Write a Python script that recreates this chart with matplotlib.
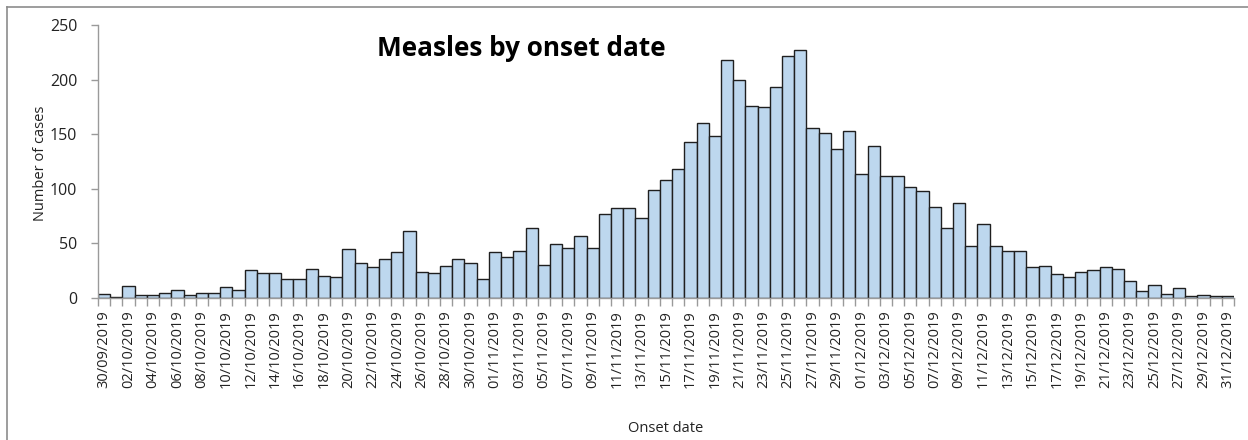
import matplotlib
matplotlib.use("Agg")
import matplotlib.pyplot as plt
import pandas as pd
from matplotlib.lines import Line2D

# ---- data ----
dates = pd.date_range("2019-09-30", "2019-12-31", freq="D")
date_labels = [d.strftime("%d/%m/%Y") for d in dates]
cases = [4, 1, 11, 3, 3, 5, 7, 3, 5, 5, 10, 7,
         26, 23, 23, 17, 17, 27, 20, 19, 45, 32, 28, 36,
         42, 61, 24, 23, 29, 36, 32, 17, 42, 38, 43, 64,
         30, 49, 46, 57, 46, 77, 82, 82, 73, 99, 108, 118,
         143, 160, 148, 218, 200, 176, 175, 193, 222, 227, 156, 151,
         136, 153, 114, 139, 112, 112, 102, 98, 83, 64, 87, 48,
         68, 48, 43, 43, 28, 29, 22, 19, 24, 26, 28, 27,
         16, 6, 12, 4, 9, 2, 3, 2, 2]
y_ticks = [0, 50, 100, 150, 200, 250]
title = "Measles by onset date"
x_title = "Onset date"
y_title = "Number of cases"

FONT = ["Open Sans", "DejaVu Sans"]
plt.rcParams["font.family"] = FONT

W, H = 1248, 440
AX_L, AX_R, AX_B, AX_T = 98, 1234, 298, 25
fig = plt.figure(figsize=(W / 100, H / 100), dpi=100)
ax = fig.add_axes([AX_L / W, (H - AX_B) / H, (AX_R - AX_L) / W, (AX_B - AX_T) / H])

x = list(range(len(cases)))
ax.bar(x, cases, width=1.0, color="#BDD7EE", edgecolor="#1f1f1f", linewidth=1.0)

ax.set_xlim(-0.5, len(cases) - 0.5)
ax.set_ylim(0, 250)
ax.set_yticks(y_ticks)
ax.set_yticklabels([str(v) for v in y_ticks], fontsize=11.5, color="#222222")

# category labels every second day
ax.set_xticks(x[::2])
ax.set_xticklabels(date_labels[::2], rotation=90, fontsize=10.5, color="#222222")
ax.tick_params(axis="x", length=0, pad=9)
# tick marks between categories
ax.set_xticks([i - 0.5 for i in range(len(cases) + 1)], minor=True)
ax.tick_params(axis="x", which="minor", length=6, color="#9a9a9a", width=1)
ax.tick_params(axis="y", length=5, color="#9a9a9a", width=1, pad=10)

for s in ["top", "right"]:
    ax.spines[s].set_visible(False)
for s in ["left", "bottom"]:
    ax.spines[s].set_color("#9a9a9a")
    ax.spines[s].set_linewidth(1)

axw, axh = AX_R - AX_L, AX_B - AX_T
ax.set_xlabel(x_title, fontsize=10.5, color="#222222")
ax.xaxis.set_label_coords(0.5, -(421 - AX_B) / axh)
ax.set_ylabel(y_title, fontsize=10.5, color="#222222")
ax.yaxis.set_label_coords(-(AX_L - 48) / axw, (AX_B - 163) / axh)

fig.text(521 / W, 1 - 48 / H, title, fontsize=18.8, fontweight="bold",
         ha="center", va="center", color="black")

# chart frame (left and top edges visible)
fig.add_artist(Line2D([7 / W, 7 / W], [0, 1 - 7 / H], transform=fig.transFigure,
                      color="#8c8c8c", lw=1.2))
fig.add_artist(Line2D([7 / W, 1], [1 - 7 / H, 1 - 7 / H], transform=fig.transFigure,
                      color="#8c8c8c", lw=1.2))

fig.savefig("out.png", dpi=100, facecolor="white")
